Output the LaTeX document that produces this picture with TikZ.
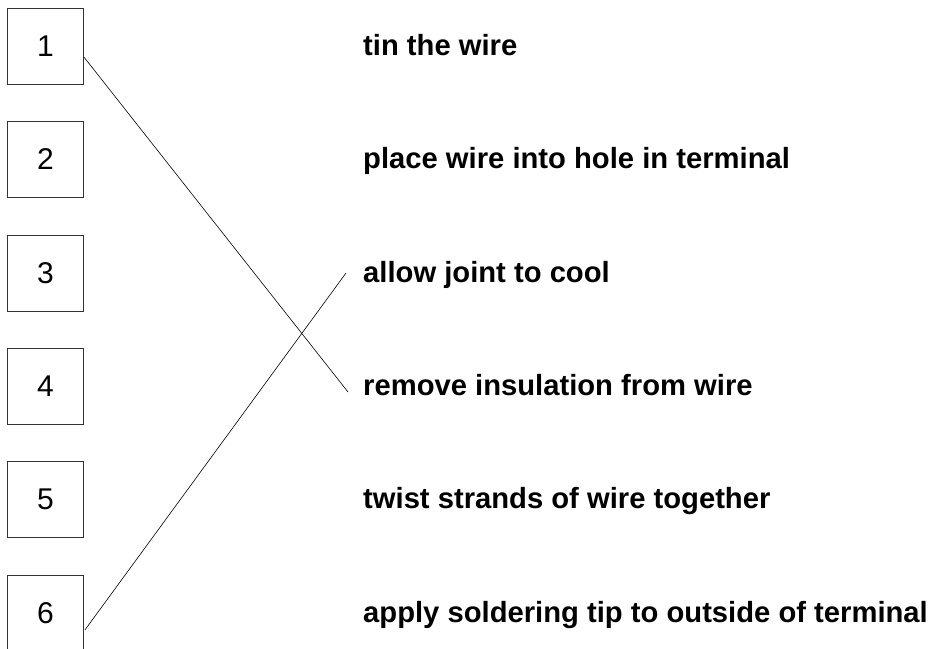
\documentclass[tikz,border=0pt]{standalone}
\usepackage{fontspec}
\setmainfont{Liberation Sans}
\begin{document}
\begin{tikzpicture}[x=1pt,y=-1pt,
  numbox/.style={draw=black!80, line width=0.8pt, minimum width=76pt, minimum height=76pt, inner sep=0pt, font=\fontsize{30}{34}\selectfont},
  steptext/.style={anchor=base west, inner sep=0pt, font=\fontsize{29.2}{34}\selectfont\bfseries},
  link/.style={line width=0.6pt}]
\useasboundingbox (0,0) rectangle (934,648);
\node[numbox] (b1) at (45.5,46) {1};
\node[numbox] (b2) at (45.5,159.5) {2};
\node[numbox] (b3) at (45.5,273) {3};
\node[numbox] (b4) at (45.5,386) {4};
\node[numbox] (b5) at (45.5,499.5) {5};
\node[numbox] (b6) at (45.5,613) {6};
\node[steptext] (t1) at (363,55) {tin the wire};
\node[steptext] (t2) at (363,168.5) {place wire into hole in terminal};
\node[steptext] (t3) at (363,282) {allow joint to cool};
\node[steptext] (t4) at (363,395) {remove insulation from wire};
\node[steptext] (t5) at (363,508.5) {twist strands of wire together};
\node[steptext] (t6) at (363,622) {apply soldering tip to outside of terminal};
\coordinate (e1) at (b1.east |- 0,57);
\coordinate (e6) at ([xshift=1pt]b6.east |- 0,630);
\coordinate (f4) at (348,392);
\coordinate (f3) at (346,273);
\draw[link] (e1) -- (f4);
\draw[link] (e6) -- (f3);
\end{tikzpicture}
\end{document}
